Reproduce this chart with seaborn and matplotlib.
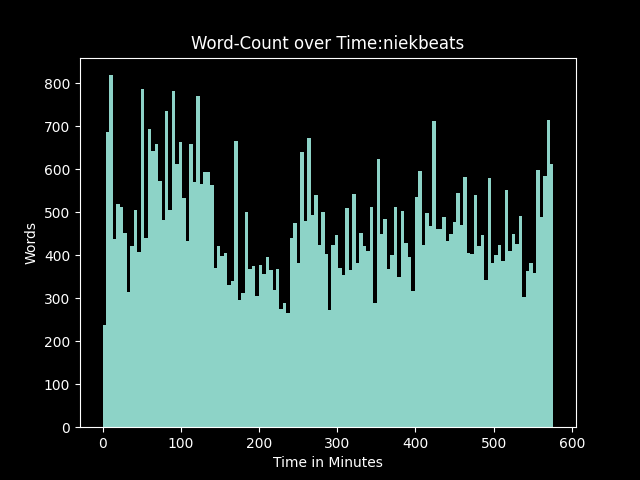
import numpy as np
import pandas as pd
import matplotlib
matplotlib.use("Agg")
import matplotlib.pyplot as plt
import seaborn as sns

words = [237, 686, 819, 437, 520, 512, 453, 315, 421, 505, 407, 788, 440, 693, 642, 660, 572, 481, 735, 505, 783,
         612, 663, 533, 433, 660, 570, 770, 565, 593, 593, 563, 370, 421, 398, 405, 330, 340, 667, 295, 312, 500, 367,
         374, 305, 377, 356, 395, 365, 319, 367, 274, 288, 265, 440, 474, 381, 640, 479, 674, 493, 540, 423, 500,
         402, 272, 423, 447, 370, 353, 509, 365, 542, 381, 453, 421, 409, 512, 288, 623, 449, 484, 367, 400, 512, 349,
         502, 428, 395, 316, 535, 595, 423, 498, 467, 712, 460, 460, 488, 433, 449, 477, 544, 470, 581, 405, 402, 540,
         421, 447, 342, 579, 381, 400, 423, 386, 551, 409, 449, 426, 491, 302, 363, 381, 358, 598, 488, 584, 714, 612]
t_start = 0.0
t_end = 576.5

plt.style.use("dark_background")
fig, ax = plt.subplots(figsize=(6.4, 4.8), dpi=100)

n = len(words)
width = (t_end - t_start) / n
df = pd.DataFrame({"time": t_start + width * (np.arange(n) + 0.5), "words": words})
sns.histplot(data=df, x="time", weights="words", bins=n, binrange=(t_start, t_end),
             ax=ax, color="#8dd3c7", alpha=1, linewidth=0, element="bars", fill=True)

ax.set_title("Word-Count over Time:niekbeats")
ax.set_xlabel("Time in Minutes")
ax.set_ylabel("Words")
fig.savefig("out.png", dpi=100)
